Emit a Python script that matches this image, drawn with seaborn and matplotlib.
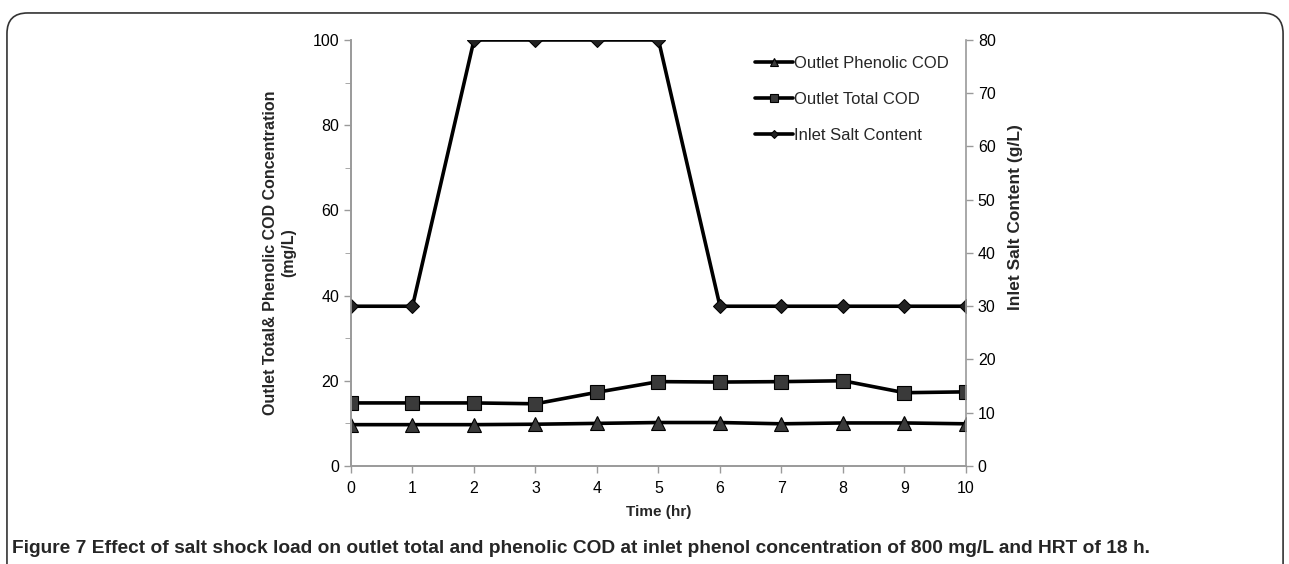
import pandas as pd
import seaborn as sns
import matplotlib.pyplot as plt
from matplotlib.patches import FancyBboxPatch
from matplotlib.ticker import MultipleLocator

# Data
time_hr = [0, 1, 2, 3, 4, 5, 6, 7, 8, 9, 10]
phenolic_cod = [9.7, 9.7, 9.7, 9.8, 10.0, 10.2, 10.2, 9.9, 10.1, 10.1, 9.9]
total_cod = [14.8, 14.8, 14.8, 14.6, 17.3, 19.8, 19.7, 19.8, 20.0, 17.2, 17.4]
salt_content = [30, 30, 80, 80, 80, 80, 30, 30, 30, 30, 30]

sns.set_style("white")
plt.rcParams["font.family"] = ["Liberation Sans", "DejaVu Sans"]

fig = plt.figure(figsize=(12.89, 5.64), dpi=100)
ax = fig.add_axes([0.2723, 0.1738, 0.4771, 0.7553])
ax2 = ax.twinx()

line_kw = dict(color="black", linewidth=2.6, markersize=10,
               markerfacecolor="#3a3a3a", markeredgecolor="black", markeredgewidth=0.8)

sns.lineplot(x=time_hr, y=phenolic_cod, ax=ax, marker="^", label="Outlet Phenolic COD", **line_kw)
sns.lineplot(x=time_hr, y=total_cod, ax=ax, marker="s", label="Outlet Total COD", **line_kw)
sns.lineplot(x=time_hr, y=salt_content, ax=ax2, marker="D", label="Inlet Salt Content",
             color="black", linewidth=2.6, markersize=7,
             markerfacecolor="#222222", markeredgecolor="black")

ax.set_xlim(0, 10)
ax.set_ylim(0, 100)
ax2.set_ylim(0, 80)
ax.set_xticks(range(0, 11))
ax.yaxis.set_major_locator(MultipleLocator(20))
ax.yaxis.set_minor_locator(MultipleLocator(10))
ax2.yaxis.set_major_locator(MultipleLocator(10))

for a in (ax, ax2):
    a.spines["top"].set_visible(False)
    for side in ("left", "right", "bottom"):
        a.spines[side].set_color("#9a9a9a")
        a.spines[side].set_linewidth(1.2)
    a.tick_params(colors="#9a9a9a", labelcolor="black", labelsize=11.5, length=5, width=1)
ax.tick_params(axis="y", which="both", left=True, direction="out")
ax.tick_params(axis="y", which="minor", length=4, color="#9a9a9a")
ax.tick_params(axis="x", bottom=True, direction="out", pad=6)
ax2.tick_params(axis="y", right=True, direction="out")
ax.spines["right"].set_visible(False)

ax.set_xlabel("Time (hr)", fontsize=11, fontweight="bold", labelpad=6)
ax.set_ylabel("Outlet Total& Phenolic COD Concentration\n(mg/L)", fontsize=11.5,
              fontweight="bold", labelpad=12)
ax2.set_ylabel("Inlet Salt Content (g/L)", fontsize=12.5, fontweight="bold")
ax2.yaxis.set_label_coords(1.068, 0.585)

h1, l1 = ax.get_legend_handles_labels()
h2, l2 = ax2.get_legend_handles_labels()
ax2.get_legend().remove()
leg = ax.legend(h1 + h2, l1 + l2, loc="upper left", bbox_to_anchor=(0.632, 0.998),
                frameon=False, fontsize=12, handlelength=2.3, handletextpad=0.05,
                labelspacing=1.25, markerscale=0.6)

# outer frame and caption
frame = FancyBboxPatch((0.0054, -0.2), 0.99, 1.177, transform=fig.transFigure,
                       boxstyle="round,pad=0,rounding_size=0.016", fill=False,
                       edgecolor="#333333", linewidth=1.2, clip_on=False,
                       mutation_aspect=1289 / 564)
fig.patches.append(frame)
fig.text(0.009, 0.028, "Figure 7 Effect of salt shock load on outlet total and phenolic COD at inlet "
         "phenol concentration of 800 mg/L and HRT of 18 h.",
         fontsize=13.8, fontweight="bold", ha="left", va="center")

fig.savefig("out.png", dpi=100)
